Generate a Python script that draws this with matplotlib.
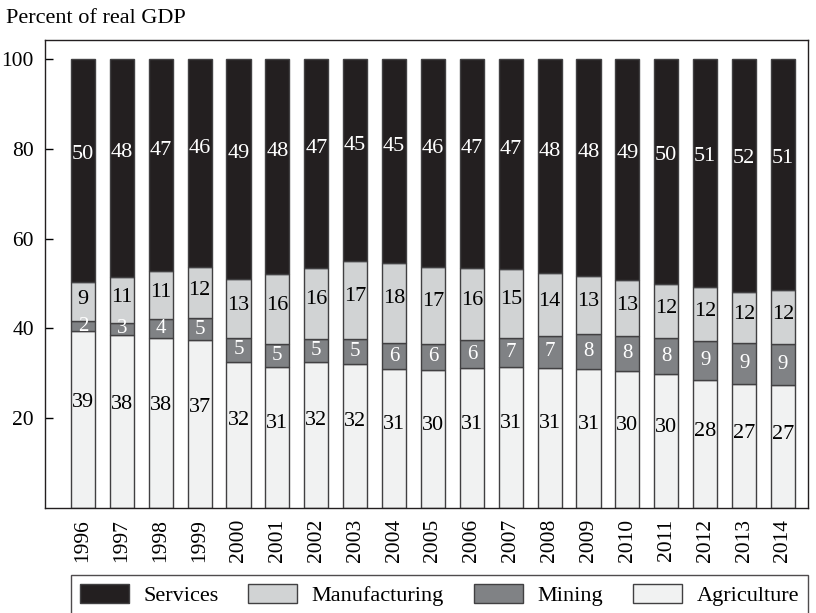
import numpy as np
import matplotlib.pyplot as plt
from matplotlib.patches import Patch

years = [str(y) for y in range(1996, 2015)]

# segment shares (percent of real GDP)
agriculture = [39.3, 38.5, 37.9, 37.3, 32.6, 31.5, 32.4, 32.1, 30.9, 30.7,
               31.1, 31.3, 31.2, 31.0, 30.6, 29.8, 28.4, 27.5, 27.3]
mining = [2.4, 2.8, 4.2, 4.9, 5.2, 5.0, 5.3, 5.5, 5.8, 5.9,
          6.3, 6.6, 7.1, 7.8, 7.6, 8.0, 8.8, 9.2, 9.2]
manufacturing = [8.7, 10.2, 10.7, 11.5, 13.2, 15.6, 15.8, 17.3, 17.9, 17.0,
                 16.0, 15.3, 14.0, 12.9, 12.6, 12.0, 12.1, 11.5, 12.1]
services = [49.6, 48.5, 47.2, 46.3, 49.0, 47.9, 46.5, 45.1, 45.4, 46.4,
            46.6, 46.8, 47.7, 48.3, 49.2, 50.2, 50.7, 51.8, 51.4]

# printed labels
agri_lbl = [39, 38, 38, 37, 32, 31, 32, 32, 31, 30, 31, 31, 31, 31, 30, 30, 28, 27, 27]
mining_lbl = [2, 3, 4, 5, 5, 5, 5, 5, 6, 6, 6, 7, 7, 8, 8, 8, 9, 9, 9]
manuf_lbl = [9, 11, 11, 12, 13, 16, 16, 17, 18, 17, 16, 15, 14, 13, 13, 12, 12, 12, 12]
serv_lbl = [50, 48, 47, 46, 49, 48, 47, 45, 45, 46, 47, 47, 48, 48, 49, 50, 51, 52, 51]

colors = {
    'Services': '#231f20',
    'Manufacturing': '#d1d3d4',
    'Mining': '#808285',
    'Agriculture': '#f1f2f2',
}
edge = '#414042'
fs = 15

plt.rcParams['font.family'] = ['Liberation Serif', 'DejaVu Serif']

fig = plt.figure(figsize=(8.16, 6.13), dpi=100)
ax = fig.add_axes([0.055, 0.1713, 0.935, 0.7634])

x = np.arange(len(years))
w = 0.62
agri = np.array(agriculture)
mine = np.array(mining)
manu = np.array(manufacturing)
serv = np.array(services)

b1 = agri
b2 = b1 + mine
b3 = b2 + manu

ax.bar(x, agri, w, color=colors['Agriculture'], edgecolor=edge, linewidth=1)
ax.bar(x, mine, w, bottom=b1, color=colors['Mining'], edgecolor=edge, linewidth=1)
ax.bar(x, manu, w, bottom=b2, color=colors['Manufacturing'], edgecolor=edge, linewidth=1)
ax.bar(x, serv, w, bottom=b3, color=colors['Services'], edgecolor=edge, linewidth=1)

for i in range(len(years)):
    ax.text(x[i], agri[i] * 0.6, str(agri_lbl[i]), ha='center', va='center',
            fontsize=fs + 1, color='black')
    ax.text(x[i], b1[i] + mine[i] / 2, str(mining_lbl[i]), ha='center', va='center',
            fontsize=fs, color='white')
    ax.text(x[i], b2[i] + manu[i] * 0.55, str(manuf_lbl[i]), ha='center', va='center',
            fontsize=fs + 1, color='black')
    ax.text(x[i], b3[i] + serv[i] * 0.57, str(serv_lbl[i]), ha='center', va='center',
            fontsize=fs + 1, color='white')

ax.set_xlim(-0.98, 18.64)
ax.set_ylim(0, 104.2)
ax.set_yticks([20, 40, 60, 80, 100])
ax.tick_params(axis='y', direction='in', length=6, width=1, labelsize=fs + 0.5, pad=8)
ax.set_xticks(x)
ax.set_xticklabels(years, rotation=90, fontsize=fs + 0.5)
ax.tick_params(axis='x', length=0, pad=8)
for s in ax.spines.values():
    s.set_linewidth(1)
    s.set_color('#231f20')

fig.text(0.007, 0.97, 'Percent of real GDP', fontsize=fs + 1, va='center', ha='left')

handles = [Patch(facecolor=colors[k], edgecolor=edge, linewidth=1) for k in colors]
leg = fig.legend(handles, list(colors.keys()), loc='upper left',
                 bbox_to_anchor=(71 / 816, 1 - 575 / 613),
                 ncol=4, fontsize=fs + 1, frameon=True, fancybox=False,
                 handlelength=2.2, handleheight=0.95, handletextpad=0.65,
                 columnspacing=1.35, borderpad=0.4, borderaxespad=0)
leg.get_frame().set_edgecolor('#231f20')
leg.get_frame().set_linewidth(1)

fig.savefig('out.png', dpi=100)
